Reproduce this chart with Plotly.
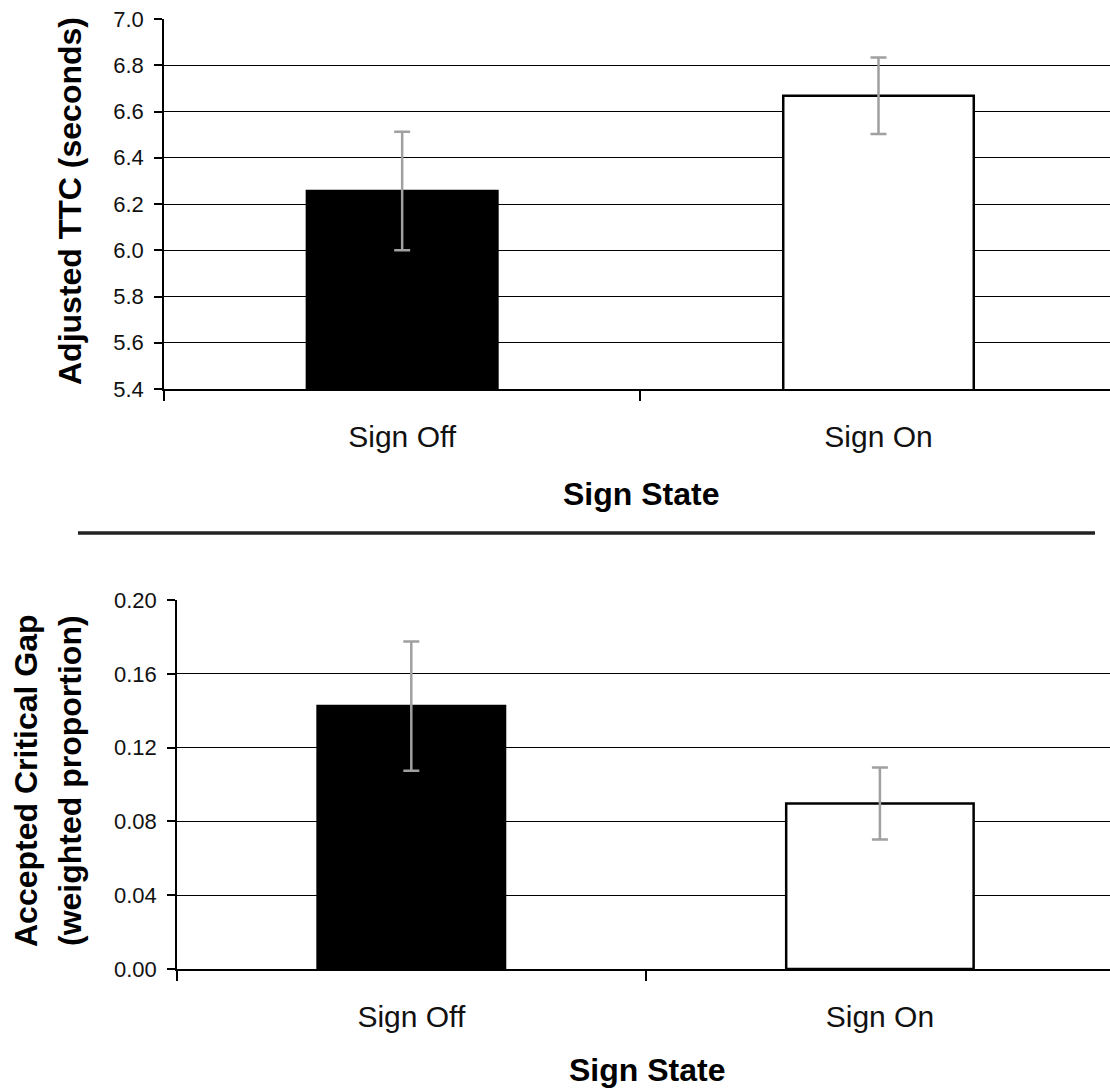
import plotly.graph_objects as go

# ---- data ----
categories = ["Sign Off", "Sign On"]
ttc_values = [6.256, 6.668]
ttc_errors = [0.256, 0.165]
gap_values = [0.1425, 0.0897]
gap_errors = [0.035, 0.0195]
bar_fills = ["#000000", "#ffffff"]
ttc_ticks = [5.4, 5.6, 5.8, 6.0, 6.2, 6.4, 6.6, 6.8, 7.0]
gap_ticks = [0.00, 0.04, 0.08, 0.12, 0.16, 0.20]

W, H = 1110, 1089
FONT = "Liberation Sans, Arial, sans-serif"

def px_x(p):
    return p / W

def px_y(p):
    return (H - p) / H

fig = go.Figure()

err_style = dict(type="data", visible=True, color="#a0a0a0", thickness=2.5, width=8)

fig.add_trace(go.Bar(
    x=categories, y=ttc_values, width=0.4,
    marker=dict(color=bar_fills, line=dict(color="#000000", width=2.5)),
    error_y=dict(array=ttc_errors, **err_style),
    xaxis="x", yaxis="y", showlegend=False,
))
fig.add_trace(go.Bar(
    x=categories, y=gap_values, width=0.4,
    marker=dict(color=bar_fills, line=dict(color="#000000", width=2.5)),
    error_y=dict(array=gap_errors, **err_style),
    xaxis="x2", yaxis="y2", showlegend=False,
))

tick_font = dict(family=FONT, size=22, color="#111111")
cat_font = dict(family=FONT, size=30, color="#111111")

common_x = dict(
    type="category", tickson="boundaries", ticks="outside", ticklen=10,
    tickcolor="#000", tickwidth=1.5, showline=True, linecolor="#000", linewidth=1.5,
    showgrid=False, zeroline=False, tickfont=cat_font, ticklabelstandoff=20,
    automargin=False,
)
common_y = dict(
    ticks="outside", ticklen=8, tickcolor="#000", tickwidth=1.5,
    showline=True, linecolor="#000", linewidth=1.5,
    showgrid=True, gridcolor="#000", gridwidth=1.3, zeroline=False,
    tickfont=tick_font, ticklabelstandoff=6, automargin=False,
)

fig.update_layout(
    width=W, height=H,
    margin=dict(l=0, r=0, t=0, b=0, pad=0),
    paper_bgcolor="white", plot_bgcolor="white",
    bargap=0.6,
    xaxis=dict(domain=[px_x(164), 1], range=[-0.5, 1.486], anchor="y", **common_x),
    yaxis=dict(domain=[px_y(389), px_y(19)], range=[5.4, 7.0], tickvals=ttc_ticks,
               tickformat=".1f", anchor="x", **common_y),
    xaxis2=dict(domain=[px_x(177), 1], range=[-0.5, 1.491], anchor="y2", **common_x),
    yaxis2=dict(domain=[px_y(969), px_y(600)], range=[0, 0.2], tickvals=gap_ticks,
                tickformat=".2f", anchor="x2", **common_y),
)

title_font = dict(family=FONT, size=32, color="#000000")
ann = dict(xref="paper", yref="paper", showarrow=False, font=title_font,
           xanchor="center", yanchor="middle")
fig.add_annotation(text="<b>Adjusted TTC (seconds)</b>", textangle=-90,
                   x=px_x(70), y=px_y(201), **ann)
fig.add_annotation(text="<b>Accepted Critical Gap</b>", textangle=-90,
                   x=px_x(26), y=px_y(781), **ann)
fig.add_annotation(text="<b>(weighted proportion)</b>", textangle=-90,
                   x=px_x(70), y=px_y(781), **ann)
fig.add_annotation(text="<b>Sign State</b>", x=px_x(641), y=px_y(494), **ann)
fig.add_annotation(text="<b>Sign State</b>", x=px_x(647), y=px_y(1070), **ann)

# separator line between the two panels
fig.add_shape(type="line", xref="paper", yref="paper",
              x0=px_x(78), x1=px_x(1095), y0=px_y(533), y1=px_y(533),
              line=dict(color="#222222", width=3.5))

fig.write_html(
    "out.html",
    config={"displayModeBar": False},
    post_script="document.body.style.margin='0px';document.body.style.overflow='hidden';",
)
